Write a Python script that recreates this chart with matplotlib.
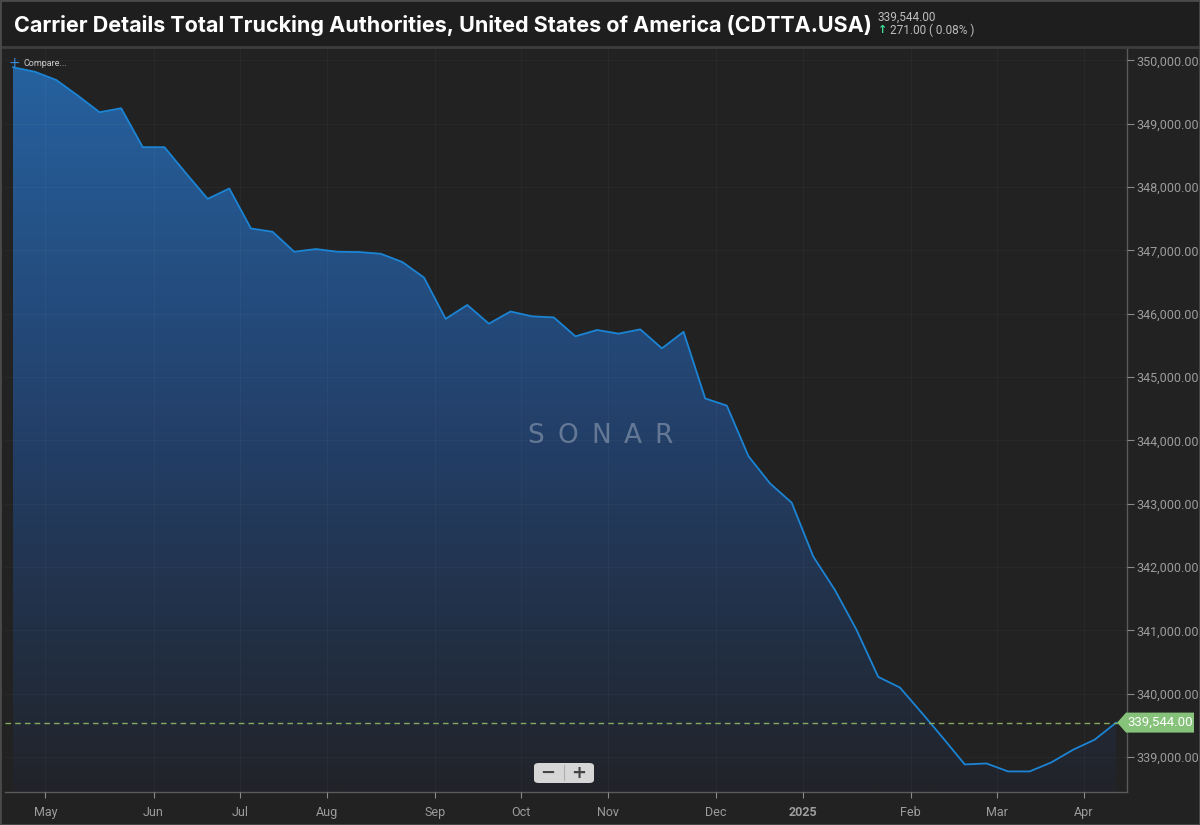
import numpy as np
import pandas as pd
import matplotlib
matplotlib.use('Agg')
import matplotlib.pyplot as plt
from matplotlib.colors import LinearSegmentedColormap
from matplotlib.patches import Polygon, Rectangle, FancyBboxPatch
from matplotlib.transforms import IdentityTransform

# weekly (Friday) readings
dates = pd.date_range('2024-04-19', periods=52, freq='7D')
values = [349893, 349823, 349692, 349445, 349183, 349246, 348631, 348631,
          348218, 347815, 347978, 347347, 347295, 346980, 347022, 346980,
          346975, 346948, 346817, 346572, 345920, 346139, 345844, 346036,
          345959, 345943, 345644, 345744, 345686, 345754, 345454, 345715,
          344663, 344550, 343751, 343320, 343016, 342164, 341637, 341006,
          340265, 340098, 339703, 339298, 338883, 338899, 338773, 338773,
          338915, 339114, 339273, 339544]
y_ticks = list(range(339000, 350001, 1000))
last_value = 339544
change = 271.00
change_pct = 0.08
title = 'Carrier Details Total Trucking Authorities, United States of America (CDTTA.USA)'

W, H = 1200, 825
BG = '#222222'
fig = plt.figure(figsize=(W / 100, H / 100), dpi=100, facecolor=BG)
ax = fig.add_axes([5 / W, 1 - 792 / H, (1127 - 5) / W, (792 - 47) / H])
ax.set_facecolor(BG)

x = np.arange(len(values))
vals = np.array(values, dtype=float)
xmin, xmax = -0.37, 51.5
ymin, ymax = 338448, 350213

# gradient area under the line
cmap = LinearSegmentedColormap.from_list('area', ['#212329', '#23406a', '#2662a0'])
grad = np.linspace(0, 1, 256).reshape(-1, 1)
im = ax.imshow(grad, extent=[xmin, xmax, ymin, 350000], aspect='auto',
               origin='lower', cmap=cmap, zorder=1)
poly = ax.fill_between(x, vals, ymin, facecolor='none', edgecolor='none')
im.set_clip_path(poly.get_paths()[0], transform=ax.transData)
ax.plot(x, vals, color='#1b84d4', lw=1.3, zorder=3)

ax.set_xlim(xmin, xmax)
ax.set_ylim(ymin, ymax)

# month ticks sit between the last point of a month and the first of the next
tick_pos, tick_lab = [], []
for i in range(1, len(dates)):
    if dates[i].month != dates[i - 1].month:
        tick_pos.append(i - 0.5)
        tick_lab.append(str(dates[i].year) if dates[i].month == 1 else dates[i].strftime('%b'))
ax.set_xticks(tick_pos)
ax.set_xticklabels(tick_lab)
for lab in ax.get_xticklabels():
    if lab.get_text().isdigit():
        lab.set_color('#e8e8e8')
        lab.set_fontweight('bold')

ax.yaxis.tick_right()
ax.set_yticks(y_ticks)
ax.set_yticklabels([f'{v:,.2f}' for v in y_ticks])
ax.tick_params(axis='y', colors='#8a8a8a', labelcolor='#9c9c9c', length=5, width=0.8,
               labelsize=9, pad=2)
ax.tick_params(axis='x', colors='#8a8a8a', labelcolor='#9c9c9c', length=4, width=0.8,
               labelsize=9, pad=6)
for lab in ax.get_yticklabels() + ax.get_xticklabels():
    lab.set_fontfamily('Roboto')

ax.grid(True, color='#ffffff', alpha=0.03, lw=0.8, zorder=2)
ax.set_axisbelow(False)
for side in ['top', 'left']:
    ax.spines[side].set_visible(False)
for side in ['right', 'bottom']:
    ax.spines[side].set_color('#5a5a5a')
    ax.spines[side].set_linewidth(1)

# last value line and label
ax.axhline(last_value, color='#86a860', lw=1, ls=(0, (4, 3)), zorder=4)
fig.canvas.draw()
px, py = ax.transData.transform((x[-1], last_value))
ax_right = ax.transAxes.transform((1, 0))[0]
fig.patches.append(Polygon([[px + 1, py], [ax_right - 1, py + 10], [W - 6, py + 10],
                            [W - 6, py - 10], [ax_right - 1, py - 10]], closed=True,
                           transform=IdentityTransform(), facecolor='#86c27a',
                           edgecolor='none', zorder=5))
fig.text((ax_right + W - 6) / 2 / W, py / H, f'{last_value:,.2f}', color='white',
         fontsize=9.5, family='Roboto', ha='center', va='center', zorder=6)

# header band
fig.patches.append(Rectangle((0, 1 - 46 / H), 1, 46 / H, transform=fig.transFigure,
                             facecolor='#1e1e1e', edgecolor='none', zorder=0))
fig.add_artist(plt.Line2D([0, 1], [1 - 46.5 / H] * 2, transform=fig.transFigure,
                          color='#3d3d3d', lw=2))
fig.patches.append(Rectangle((0, 0), 1, 1, transform=fig.transFigure, fill=False,
                             edgecolor='#4a4a4a', lw=2, zorder=10))
fig.text(14 / W, 1 - 25 / H, title, color='white', fontsize=15.5, fontweight='bold',
         family='Inter', ha='left', va='center')
fig.text(878 / W, 1 - 17 / H, f'{last_value:,.2f}', color='#bdbdbd', fontsize=8.5,
         family='Roboto', ha='left', va='center')
fig.text(878 / W, 1 - 30 / H, '\u2191', color='#3ddc97', fontsize=8, fontweight='bold',
         family='DejaVu Sans', ha='left', va='center')
fig.text(890 / W, 1 - 30 / H, f'{change:.2f} ( {change_pct:.2f}% )', color='#bdbdbd',
         fontsize=8.5, family='Roboto', ha='left', va='center')

# compare control
fig.text(14 / W, 1 - 63 / H, '+', color='#3f8fdc', fontsize=10, family='DejaVu Sans',
         ha='center', va='center', zorder=6)
fig.text(23 / W, 1 - 63 / H, 'Compare...', color='#cfcfcf', fontsize=6.5,
         family='Roboto', ha='left', va='center', zorder=6)

# watermark
for cx, ch in zip([535.5, 568, 601.5, 632.5, 663.5], 'SONAR'):
    fig.text(cx / W, 1 - 436 / H, ch, color='#ffffff', alpha=0.3, fontsize=19,
             family='DejaVu Sans', fontweight='normal', ha='center', va='center',
             zorder=6)

# zoom buttons
fig.patches.append(FancyBboxPatch((534 / W, 1 - 783 / H), 60 / W, 20 / H,
                                  boxstyle='round,pad=0,rounding_size=0.004',
                                  transform=fig.transFigure, facecolor='#d6d6d6',
                                  edgecolor='none', zorder=6))
fig.add_artist(plt.Line2D([563.5 / W] * 2, [1 - 780 / H, 1 - 765 / H],
                          transform=fig.transFigure, color='#b0b0b0', lw=0.8, zorder=7))
fig.text(548 / W, 1 - 773 / H, '\u2212', color='#444444', fontsize=13, fontweight='bold',
         family='DejaVu Sans', ha='center', va='center', zorder=7)
fig.text(579 / W, 1 - 773 / H, '+', color='#444444', fontsize=13, fontweight='bold',
         family='DejaVu Sans', ha='center', va='center', zorder=7)

fig.savefig('out.png', dpi=100, facecolor=fig.get_facecolor())
